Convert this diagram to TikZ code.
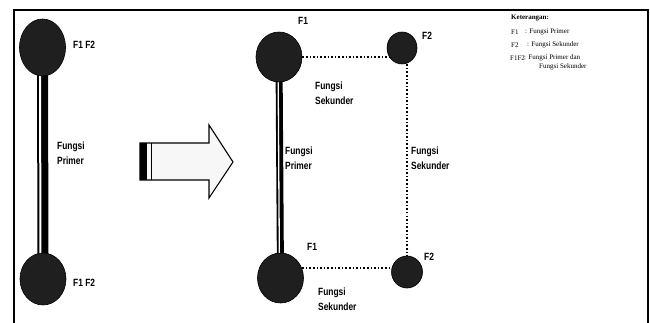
\documentclass[tikz,border=0pt]{standalone}
\usepackage{fontspec}
\setmainfont{Liberation Serif}
\newfontfamily\lblfont[FakeStretch=0.8]{Liberation Sans}
\usetikzlibrary{shapes.geometric,backgrounds}
\tikzset{
  blob/.style={ellipse, fill=black!88, draw=black, line width=0.6pt, inner sep=0pt},
  lbl/.style={font=\lblfont\bfseries\fontsize{10.5}{15}\selectfont, inner sep=0pt, anchor=west, align=left},
  leg/.style={font=\fontsize{7}{8}\selectfont, inner sep=0pt, anchor=west},
  legtitle/.style={font=\bfseries\fontsize{7}{8}\selectfont, inner sep=0pt, anchor=west},
  secline/.style={dotted, line width=1.6pt},
  frameline/.style={line width=1.4pt}
}
\begin{document}
\begin{tikzpicture}[x=1pt,y=-1pt]
\useasboundingbox (0,0) rectangle (650,323);
% frame
\draw[frameline] (14,323) -- (14,10) -- (648,10) -- (648,323);
% left pair
\node[blob, minimum width=46pt, minimum height=57pt] (lt) at (42.5,47.5) {};
\node[blob, minimum width=46pt, minimum height=52pt] (lb) at (43,279) {};
\begin{scope}[on background layer]
\draw[line width=11pt] (lt.center) -- (lb.center);
\draw[white, line width=2pt] ([xshift=-2.5pt]lt.center) -- ([xshift=-2.5pt]lb.center);
\end{scope}
\node[lbl] (ltl) at (73,45) {F1 F2};
\node[lbl] (lbl1) at (73,283) {F1 F2};
\node[lbl] (lpl) at (57,153) {Fungsi\\Primer};
% arrow
\draw[line width=1.1pt, fill=black!3] (140,143) -- (209,143) -- (209,125) -- (233,162) -- (209,198) -- (209,180) -- (140,180) -- cycle;
\fill (140,143) rectangle (146.5,180);
\draw[line width=1pt] (151,143) -- (151,180);
% right group
\node[blob, minimum width=46pt, minimum height=50pt] (rt) at (279,57) {};
\node[blob, minimum width=46pt, minimum height=50pt] (rl) at (280.5,278) {};
\node[blob, minimum width=30pt, minimum height=32pt] (rf) at (402,48) {};
\node[blob, minimum width=31pt, minimum height=32pt] (rb) at (407,272) {};
\begin{scope}[on background layer]
\draw[line width=7pt] (rt.center) -- (rl.center);
\draw[white, line width=1.3pt] ([xshift=-1pt]rt.center) -- ([xshift=-1pt]rl.center);
\draw[secline] (rt) -- (rt -| rf);
\draw[secline] (rf.south -| rb) -- (rb.center);
\draw[secline] ([yshift=4pt]rb.west -| rl) -- ([yshift=4pt]rb.center);
\end{scope}
\node[lbl] (rtl) at (298,21) {F1};
\node[lbl] (rfl) at (422,36) {F2};
\node[lbl] (rll) at (307,247) {F1};
\node[lbl] (rbl) at (424,257) {F2};
\node[lbl] (s1) at (315,93) {Fungsi\\Sekunder};
\node[lbl] (pr) at (285,158) {Fungsi\\Primer};
\node[lbl] (s2) at (411,158) {Fungsi\\Sekunder};
\node[lbl] (s3) at (318,299) {Fungsi\\Sekunder};
% legend
\node[legtitle] (kt) at (511,18) {Keterangan:};
\node[leg] (k1) at (511,32) {F1};
\node[leg] (k1t) at (525,32) {: Fungsi Primer};
\node[leg] (k2) at (511,45) {F2};
\node[leg] (k2t) at (527,45) {: Fungsi Sekunder};
\node[leg] (k3) at (510,58) {F1F2};
\node[leg] (k3t) at (524,58) {: Fungsi Primer dan};
\node[leg] (k3u) at (539,67) {Fungsi Sekunder};
\end{tikzpicture}
\end{document}
